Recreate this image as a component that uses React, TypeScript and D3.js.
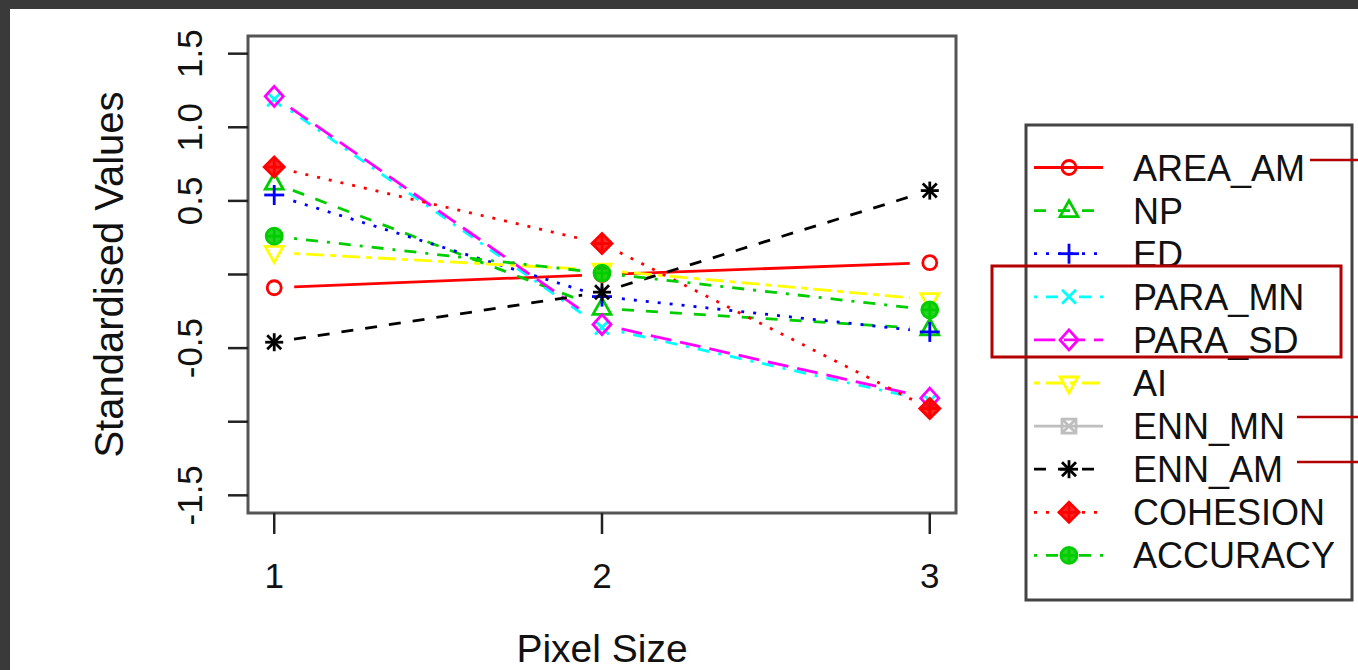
import React from "react";
import * as d3 from "d3";

const pixelSizes = [1, 2, 3];
const seriesNames = ["AREA_AM", "NP", "ED", "PARA_MN", "PARA_SD", "AI", "ENN_MN", "ENN_AM", "COHESION", "ACCURACY"];
const areaAm: (number | null)[] = [-0.09, 0.0, 0.08];
const np: (number | null)[] = [0.62, -0.23, -0.37];
const ed: (number | null)[] = [0.54, -0.15, -0.39];
const paraMn: (number | null)[] = [1.19, -0.36, -0.86];
const paraSd: (number | null)[] = [1.21, -0.34, -0.84];
const ai: (number | null)[] = [0.15, 0.03, -0.17];
// ENN_MN is not drawn in the plot (no standardised values shown)
const ennMn: (number | null)[] = [null, null, null];
const ennAm: (number | null)[] = [-0.46, -0.12, 0.57];
const cohesion: (number | null)[] = [0.73, 0.21, -0.91];
const accuracy: (number | null)[] = [0.26, 0.01, -0.24];
const seriesValues = [areaAm, np, ed, paraMn, paraSd, ai, ennMn, ennAm, cohesion, accuracy];
const seriesColors = ["#FF0000", "#00CD00", "#0000FF", "#00FFFF", "#FF00FF", "#FFFF00", "#BEBEBE", "#000000", "#FF0000", "#00CD00"];
const seriesDash = ["", "12,12", "3,9", "3,9,12,9", "21,9", "6,6,18,6", "", "12,12", "3,9", "3,9,12,9"];
const seriesPch = [1, 2, 3, 4, 5, 6, 7, 8, 9, 10];
const yTicks = [-1.5, -1, -0.5, 0, 0.5, 1, 1.5];
const yTickLabels = ["-1.5", "", "-0.5", "", "0.5", "1.0", "1.5"];
const xTickLabels = ["1", "2", "3"];

const FONT = "'Liberation Sans', Arial, Helvetica, sans-serif";

function Marker({ pch, x, y, color }: { pch: number; x: number; y: number; color: string }) {
  const sw = 2.8;
  const common = { stroke: color, strokeWidth: sw, fill: "none" };
  switch (pch) {
    case 1:
      return <circle cx={x} cy={y} r={7} {...common} />;
    case 2:
      return <polygon points={`${x},${y - 10} ${x - 9},${y + 6} ${x + 9},${y + 6}`} {...common} />;
    case 3:
      return (
        <g {...common}>
          <line x1={x - 10} y1={y} x2={x + 10} y2={y} />
          <line x1={x} y1={y - 10} x2={x} y2={y + 10} />
        </g>
      );
    case 4:
      return (
        <g {...common}>
          <line x1={x - 7} y1={y - 7} x2={x + 7} y2={y + 7} />
          <line x1={x - 7} y1={y + 7} x2={x + 7} y2={y - 7} />
        </g>
      );
    case 5:
      return <polygon points={`${x},${y - 10} ${x + 9},${y} ${x},${y + 10} ${x - 9},${y}`} {...common} />;
    case 6:
      return <polygon points={`${x},${y + 10} ${x - 9},${y - 6} ${x + 9},${y - 6}`} {...common} />;
    case 7:
      return (
        <g {...common}>
          <rect x={x - 7} y={y - 7} width={14} height={14} />
          <line x1={x - 7} y1={y - 7} x2={x + 7} y2={y + 7} />
          <line x1={x - 7} y1={y + 7} x2={x + 7} y2={y - 7} />
        </g>
      );
    case 8:
      return (
        <g {...common}>
          <line x1={x - 9} y1={y} x2={x + 9} y2={y} />
          <line x1={x} y1={y - 9} x2={x} y2={y + 9} />
          <line x1={x - 7} y1={y - 7} x2={x + 7} y2={y + 7} />
          <line x1={x - 7} y1={y + 7} x2={x + 7} y2={y - 7} />
        </g>
      );
    case 9:
      return (
        <g stroke={color} strokeWidth={sw}>
          <polygon points={`${x},${y - 10} ${x + 10},${y} ${x},${y + 10} ${x - 10},${y}`} fill={color} fillOpacity={0.85} />
          <line x1={x - 10} y1={y} x2={x + 10} y2={y} />
          <line x1={x} y1={y - 10} x2={x} y2={y + 10} />
        </g>
      );
    case 10:
      return (
        <g stroke={color} strokeWidth={sw}>
          <circle cx={x} cy={y} r={8} fill={color} fillOpacity={0.85} />
          <line x1={x - 8} y1={y} x2={x + 8} y2={y} />
          <line x1={x} y1={y - 8} x2={x} y2={y + 8} />
        </g>
      );
    default:
      return null;
  }
}

export default function App() {
  const W = 1358;
  const H = 670;
  const left = 248, right = 956, top = 36, bottom = 513;
  const x = d3.scaleLinear().domain([0.92, 3.08]).range([left, right]);
  const y = d3.scaleLinear().domain([-1.62, 1.62]).range([bottom, top]);
  const gap = 20;
  const lineGen = d3.line<[number, number]>().x((d) => d[0]).y((d) => d[1]);

  const segments = (vals: (number | null)[]) => {
    const out: [number, number][][] = [];
    for (let i = 0; i < vals.length - 1; i++) {
      const a = vals[i], b = vals[i + 1];
      if (a == null || b == null) continue;
      const x0 = x(pixelSizes[i]), y0 = y(a);
      const x1 = x(pixelSizes[i + 1]), y1 = y(b);
      const dx = x1 - x0, dy = y1 - y0;
      const len = Math.sqrt(dx * dx + dy * dy);
      const ux = dx / len, uy = dy / len;
      out.push([
        [x0 + ux * gap, y0 + uy * gap],
        [x1 - ux * gap, y1 - uy * gap],
      ]);
    }
    return out;
  };

  const legX0 = 1034, legX1 = 1103, legSym = 1069, legText = 1133;
  const legY0 = 167.5, legStep = 43.1;

  return (
    <svg width={W} height={H} style={{ position: "absolute", left: 0, top: 0 }} fontFamily={FONT}>
      <rect x={0} y={0} width={W} height={H} fill="#3a3a3a" />
      <rect x={10} y={9} width={W - 10} height={H - 9} fill="#ffffff" />

      {/* series */}
      {seriesValues.map((vals, si) => (
        <g key={seriesNames[si]}>
          {segments(vals).map((seg, k) => (
            <path
              key={k}
              d={lineGen(seg) || ""}
              stroke={seriesColors[si]}
              strokeWidth={2.8}
              strokeDasharray={seriesDash[si] || undefined}
              fill="none"
            />
          ))}
          {vals.map((v, k) =>
            v == null ? null : (
              <Marker key={k} pch={seriesPch[si]} x={x(pixelSizes[k])} y={y(v)} color={seriesColors[si]} />
            )
          )}
        </g>
      ))}

      {/* plot box */}
      <rect x={left} y={top} width={right - left} height={bottom - top} fill="none" stroke="#555" strokeWidth={3} />

      {/* y axis ticks */}
      {yTicks.map((t, i) => (
        <g key={t}>
          <line x1={228} x2={left} y1={y(t)} y2={y(t)} stroke="#222" strokeWidth={2.5} />
          {yTickLabels[i] && (
            <text
              transform={`translate(202,${y(t)}) rotate(-90)`}
              textAnchor="middle"
              fontSize={35}
              fill="#111"
            >
              {yTickLabels[i]}
            </text>
          )}
        </g>
      ))}

      {/* x axis ticks */}
      {pixelSizes.map((p, i) => (
        <g key={p}>
          <line x1={x(p)} x2={x(p)} y1={bottom} y2={534} stroke="#222" strokeWidth={2.5} />
          <text x={x(p)} y={588} textAnchor="middle" fontSize={35} fill="#111">
            {xTickLabels[i]}
          </text>
        </g>
      ))}

      {/* axis titles */}
      <text x={(left + right) / 2} y={662} textAnchor="middle" fontSize={39} fill="#111">
        Pixel Size
      </text>
      <text
        transform={`translate(123,${(top + bottom) / 2}) rotate(-90)`}
        textAnchor="middle"
        fontSize={40}
        fill="#111"
      >
        Standardised Values
      </text>

      {/* legend */}
      <rect x={1026} y={125} width={326} height={475} fill="#fff" stroke="#444" strokeWidth={3} />
      {seriesNames.map((name, i) => {
        const ly = legY0 + i * legStep;
        return (
          <g key={name}>
            <line
              x1={legX0}
              x2={legX1}
              y1={ly}
              y2={ly}
              stroke={seriesColors[i]}
              strokeWidth={2.8}
              strokeDasharray={seriesDash[i] || undefined}
            />
            <Marker pch={seriesPch[i]} x={legSym} y={ly} color={seriesColors[i]} />
            <text x={legText} y={ly + 13} fontSize={36} fill="#111">
              {name}
            </text>
          </g>
        );
      })}

      {/* red annotations */}
      <rect x={992} y={266} width={349} height={91} fill="none" stroke="#b30000" strokeWidth={3} />
      <line x1={1310} x2={W} y1={160} y2={160} stroke="#b30000" strokeWidth={2.5} />
      <line x1={1297} x2={W} y1={417} y2={417} stroke="#b30000" strokeWidth={2.5} />
      <line x1={1297} x2={W} y1={462} y2={462} stroke="#b30000" strokeWidth={2.5} />
    </svg>
  );
}
